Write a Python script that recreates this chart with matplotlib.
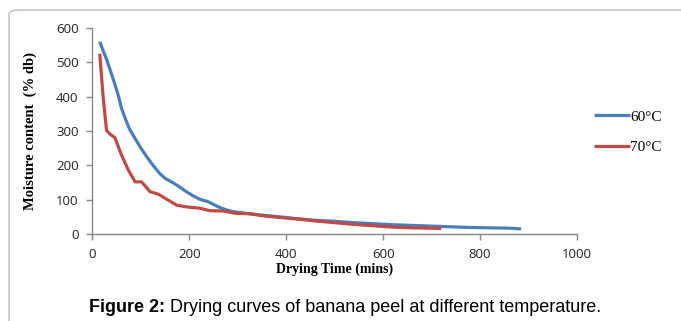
import matplotlib.pyplot as plt
from matplotlib.patches import FancyBboxPatch

# drying time (mins) and moisture content (% db)
time_60 = [15, 30, 43, 52, 60, 68, 76, 88, 100, 112, 125, 139, 150, 163, 180, 194,
           208, 222, 239, 250, 263, 277, 290, 318, 350, 387, 420, 460, 500, 540,
           580, 620, 660, 700, 740, 780, 820, 860, 885]
mc_60 = [560, 505, 450, 410, 366, 335, 307, 278, 250, 225, 200, 176, 162, 152, 137, 123,
         111, 101, 94, 86, 77, 70, 65, 60, 55, 50, 45, 40, 37, 33,
         30, 27, 25, 23, 21, 19, 18, 17, 15]

time_70 = [15, 22, 29, 36, 46, 60, 74, 88, 101, 110, 119, 136, 156, 174, 194, 222,
           242, 270, 297, 325, 352, 387, 420, 460, 500, 540, 580, 620, 660, 700, 720]
mc_70 = [525, 399, 302, 291, 281, 230, 186, 152, 152, 138, 123, 116, 99, 84, 79, 75,
         68, 67, 60, 59, 53, 48, 44, 38, 33, 28, 24, 20, 18, 17, 16]

series_labels = ["60°C", "70°C"]
colors = ["#4A7EBB", "#BE4B48"]

fig = plt.figure(figsize=(6.81, 3.21), dpi=100)
ax = fig.add_axes([0.1358, 0.271, 0.7112, 0.6418])

ax.plot(time_60, mc_60, color=colors[0], lw=2.3, label=series_labels[0],
        solid_capstyle="butt")
ax.plot(time_70, mc_70, color=colors[1], lw=2.3, label=series_labels[1],
        solid_capstyle="butt")

ax.set_xlim(0, 1000)
ax.set_ylim(0, 600)
ax.set_xticks(range(0, 1001, 200))
ax.set_yticks(range(0, 601, 100))

for side in ["top", "right"]:
    ax.spines[side].set_visible(False)
for side in ["left", "bottom"]:
    ax.spines[side].set_color("#888888")
    ax.spines[side].set_linewidth(1)
ax.tick_params(direction="out", length=4, color="#888888", width=1,
               labelsize=9.5, pad=6, labelcolor="#222222")
for lbl in ax.get_xticklabels() + ax.get_yticklabels():
    lbl.set_family("Open Sans")

ax.set_xlabel("Drying Time (mins)", family="Liberation Serif", weight="bold",
              fontsize=10, labelpad=1)
ax.set_ylabel("Moisture content  (% db)", family="Liberation Serif",
              weight="bold", fontsize=10.5, labelpad=14)

leg = ax.legend(loc="center left", bbox_to_anchor=(1.008, 0.495), frameon=False,
                prop={"family": "Liberation Serif", "size": 11},
                handlelength=2.3, handletextpad=0.05, labelspacing=1.1)

# caption: bold prefix followed by regular text, centred as a whole
fig.canvas.draw()
renderer = fig.canvas.get_renderer()
cap_size = 13
cap_y = 0.027
bold = fig.text(0, cap_y, "Figure 2:", fontsize=cap_size, family="Liberation Sans",
                weight="bold", ha="left", va="baseline")
rest = fig.text(0, cap_y, " Drying curves of banana peel at different temperature.",
                fontsize=cap_size, family="Liberation Sans", ha="left", va="baseline")
w_bold = bold.get_window_extent(renderer).width
w_rest = rest.get_window_extent(renderer).width
x0 = 345 - (w_bold + w_rest) / 2
bold.set_x(x0 / 681)
rest.set_x((x0 + w_bold) / 681)

border = FancyBboxPatch((9 / 681, -0.2), 1.2, 1.2 - 10 / 321,
                        boxstyle="round,pad=0,rounding_size=0.015",
                        transform=fig.transFigure, fill=False,
                        edgecolor="#bbbbbb", lw=1)
fig.patches.append(border)

fig.savefig("out.png", dpi=100)
